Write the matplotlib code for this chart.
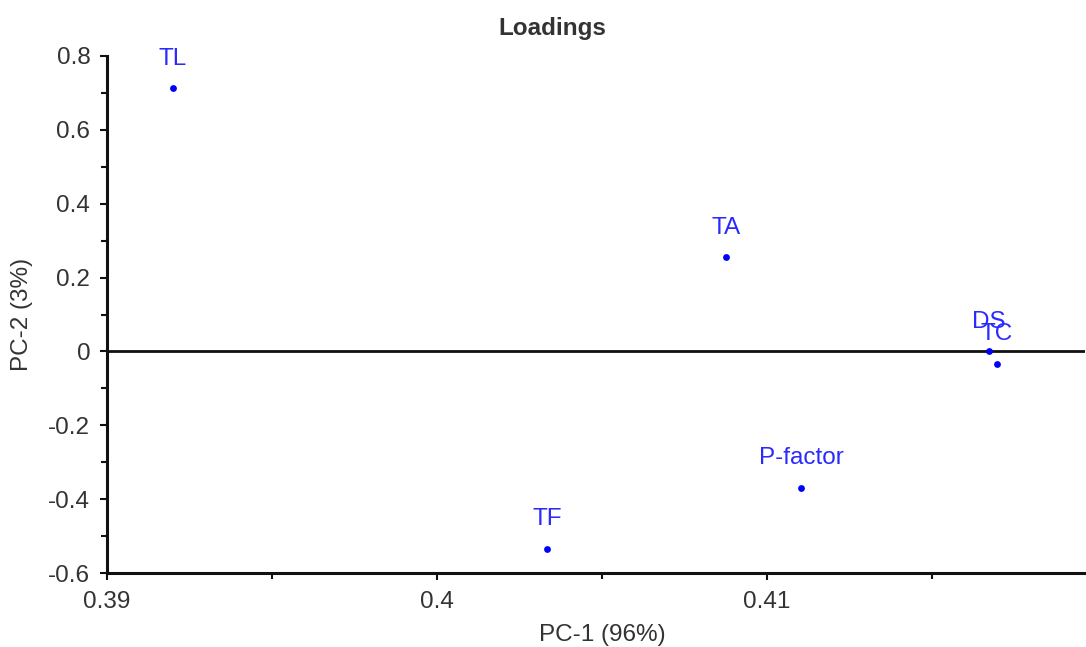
import matplotlib
matplotlib.use("Agg")
import matplotlib.pyplot as plt
from matplotlib.ticker import MultipleLocator, FuncFormatter

plt.rcParams['font.family'] = ['Liberation Sans', 'DejaVu Sans']

variables = ["TL", "TA", "DS", "TC", "P-factor", "TF"]
pc1 = [0.39200, 0.40876, 0.41673, 0.41697, 0.41103, 0.40333]
pc2 = [0.713, 0.255, 0.000, -0.033, -0.369, -0.534]

FS = 17.5

fig = plt.figure(figsize=(10.86, 6.47), dpi=100)
ax = fig.add_axes([107/1086, 1-573/647, (1085-107)/1086, (573-56)/647])

ax.scatter(pc1, pc2, s=24, color='#0000ff', zorder=3, linewidths=0)
for name, x, y in zip(variables, pc1, pc2):
    ax.annotate(name, (x, y), xytext=(0, 17), textcoords='offset points',
                ha='center', va='baseline', fontsize=FS, color='#2a2aff')

ax.axhline(0, color='#111111', lw=2.0, zorder=2)

ax.set_xlim(0.39, 0.41964)
ax.set_ylim(-0.6, 0.8)
ax.xaxis.set_major_locator(MultipleLocator(0.01))
ax.xaxis.set_minor_locator(MultipleLocator(0.005))
ax.yaxis.set_major_locator(MultipleLocator(0.2))
ax.yaxis.set_minor_locator(MultipleLocator(0.1))

def fmt(v, pos):
    s = f"{v:.2f}".rstrip('0').rstrip('.')
    if s == "-0":
        s = "0"
    return s
ax.xaxis.set_major_formatter(FuncFormatter(fmt))
ax.yaxis.set_major_formatter(FuncFormatter(fmt))

for side in ('top', 'right'):
    ax.spines[side].set_visible(False)
for side in ('left', 'bottom'):
    ax.spines[side].set_linewidth(2.2)
    ax.spines[side].set_color('#111111')

ax.tick_params(axis='both', which='major', direction='out', length=5, width=1.5,
               labelsize=FS, labelcolor='#333333', color='#111111')
ax.tick_params(axis='x', which='major', pad=8)
ax.tick_params(axis='y', which='major', pad=7)
ax.tick_params(axis='both', which='minor', direction='out', length=4, width=1.5,
               color='#111111')

fig.text(552/1086, 1-28/647, "Loadings", ha='center', va='center',
         fontsize=FS, fontweight='bold', color='#333333')
fig.text(602/1086, 1-635/647, "PC-1 (96%)", ha='center', va='center',
         fontsize=FS, color='#333333')
fig.text(22/1086, 1-314/647, "PC-2 (3%)", ha='center', va='center',
         rotation=90, fontsize=FS, color='#333333')

fig.savefig("out.png", dpi=100)
